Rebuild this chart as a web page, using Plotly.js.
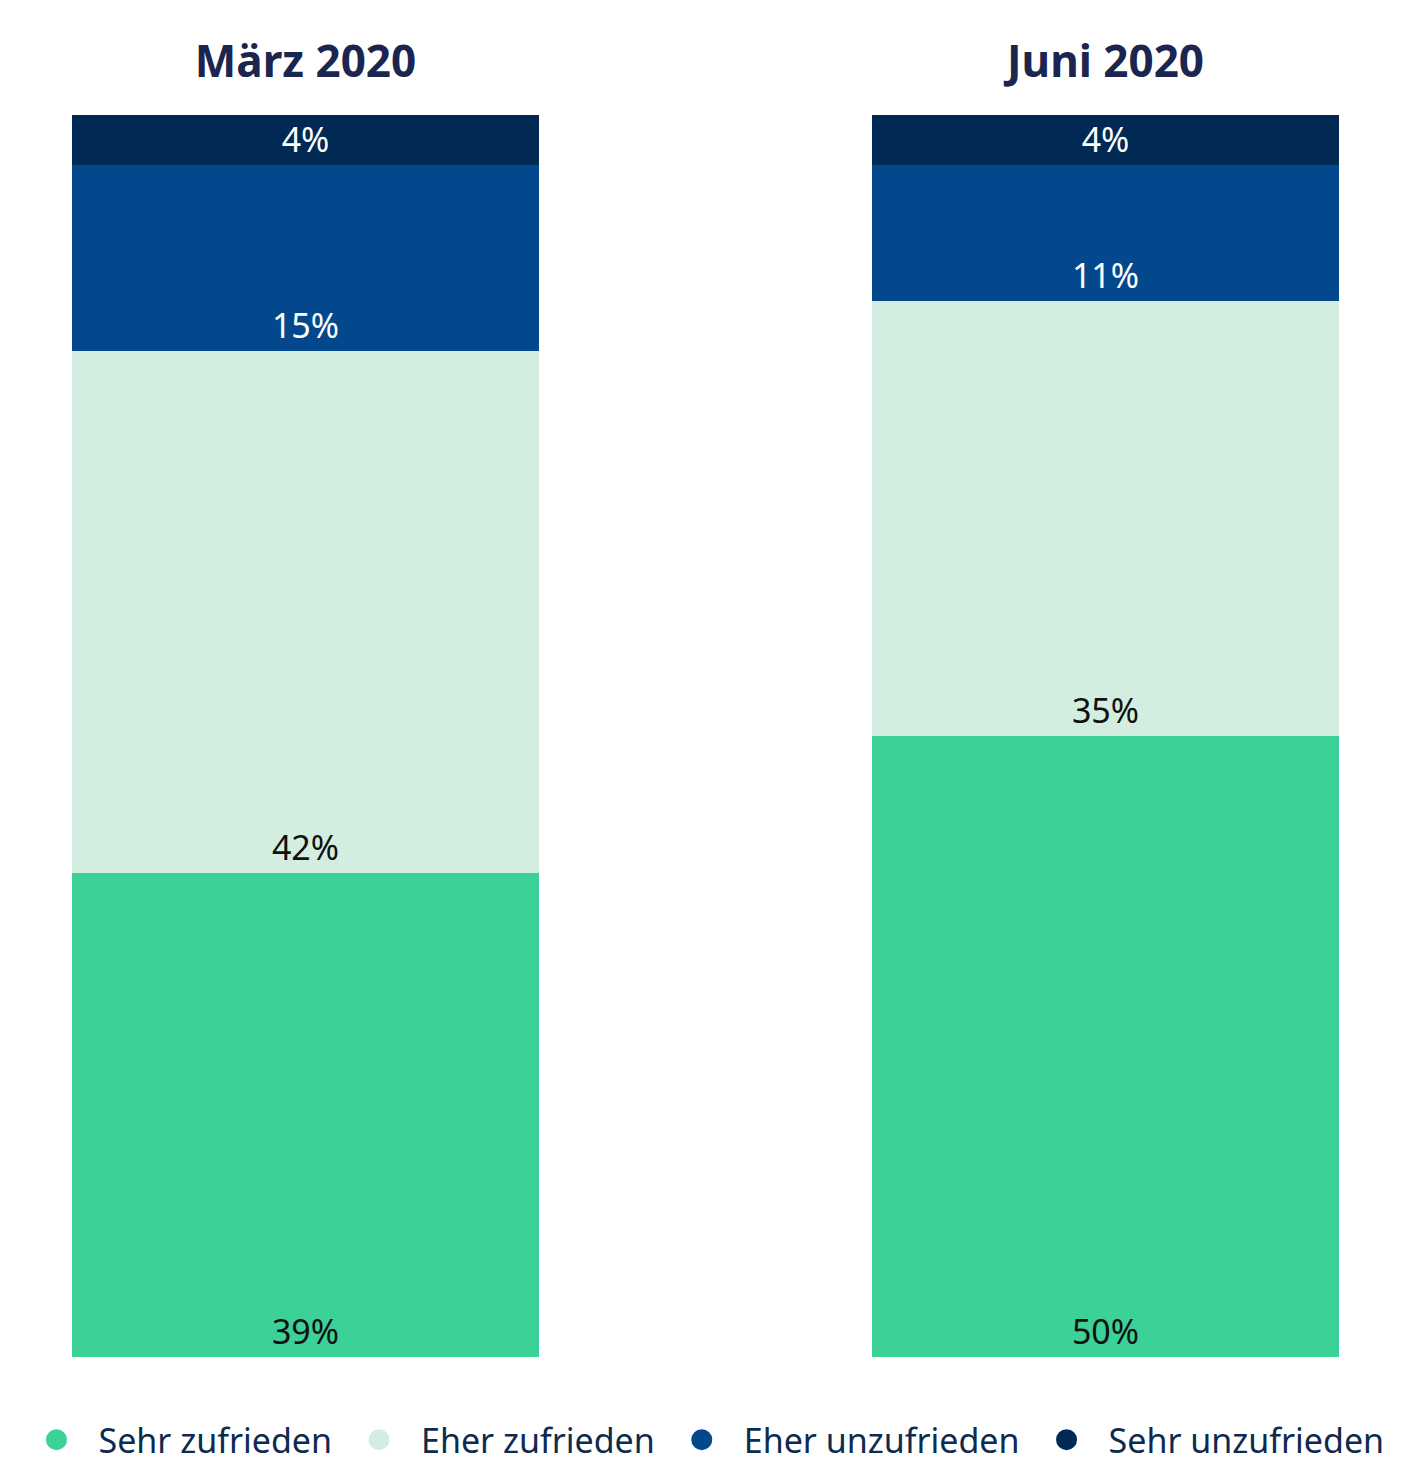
<!DOCTYPE html>
<html>
<head>
<meta charset="utf-8">
<script src="https://cdn.plot.ly/plotly-3.0.1.min.js"></script>
<style>html,body{margin:0;padding:0;background:#fff;}#chart{width:1404px;height:1469px;}</style>
</head>
<body>
<div id="chart"></div>
<script>
var categories = ["März 2020", "Juni 2020"];
var seriesNames = ["Sehr zufrieden", "Eher zufrieden", "Eher unzufrieden", "Sehr unzufrieden"];
var sehrZufrieden = [39, 50];
var eherZufrieden = [42, 35];
var eherUnzufrieden = [15, 11];
var sehrUnzufrieden = [4, 4];
var seriesValues = [sehrZufrieden, eherZufrieden, eherUnzufrieden, sehrUnzufrieden];
var colors = ["#3bd197", "#d3eee0", "#03488c", "#002a53"];
var textColors = ["#111111", "#111111", "#ffffff", "#ffffff"];

var traces = [];
seriesNames.forEach(function (name, i) {
  traces.push({
    type: "bar",
    name: name,
    x: categories,
    y: seriesValues[i],
    width: 0.58375,
    marker: {color: colors[i], line: {width: 0}},
    text: seriesValues[i].map(function (v) { return v + "%"; }),
    textposition: "inside",
    insidetextanchor: "start",
    textangle: 0,
    constraintext: "none",
    insidetextfont: {family: "Noto Sans", size: 34, color: textColors[i]},
    showlegend: false,
    hoverinfo: "skip"
  });
});
// legend entries (circle markers)
seriesNames.forEach(function (name, i) {
  traces.push({
    type: "scatter",
    mode: "markers",
    name: name,
    x: [null],
    y: [null],
    marker: {symbol: "circle", size: 16, color: colors[i], line: {width: 5, color: colors[i]}},
    showlegend: true,
    hoverinfo: "skip"
  });
});

var layout = {
  width: 1404,
  height: 1469,
  margin: {l: 0, r: 0, t: 115, b: 112, autoexpand: false},
  paper_bgcolor: "#ffffff",
  plot_bgcolor: "#ffffff",
  barmode: "stack",
  showlegend: true,
  legend: {
    orientation: "h",
    x: 0.5, xanchor: "center",
    y: -0.0902, yanchor: "bottom",
    font: {family: "Noto Sans", size: 34, color: "#0d2a4f"},
    itemsizing: "trace",
    itemwidth: 74,
    traceorder: "normal"
  },
  xaxis: {
    type: "category",
    side: "top",
    range: [-0.381875, 1.373125],
    showgrid: false, zeroline: false, showline: false,
    ticks: "",
    ticklabelstandoff: 28,
    tickfont: {family: "Noto Sans", size: 44, color: "#1b2650", weight: "bold"},
    fixedrange: true
  },
  yaxis: {
    range: [0, 100],
    visible: false,
    showgrid: false, zeroline: false,
    fixedrange: true
  }
};

Plotly.newPlot("chart", traces, layout, {displayModeBar: false, staticPlot: true});
</script>
</body>
</html>
